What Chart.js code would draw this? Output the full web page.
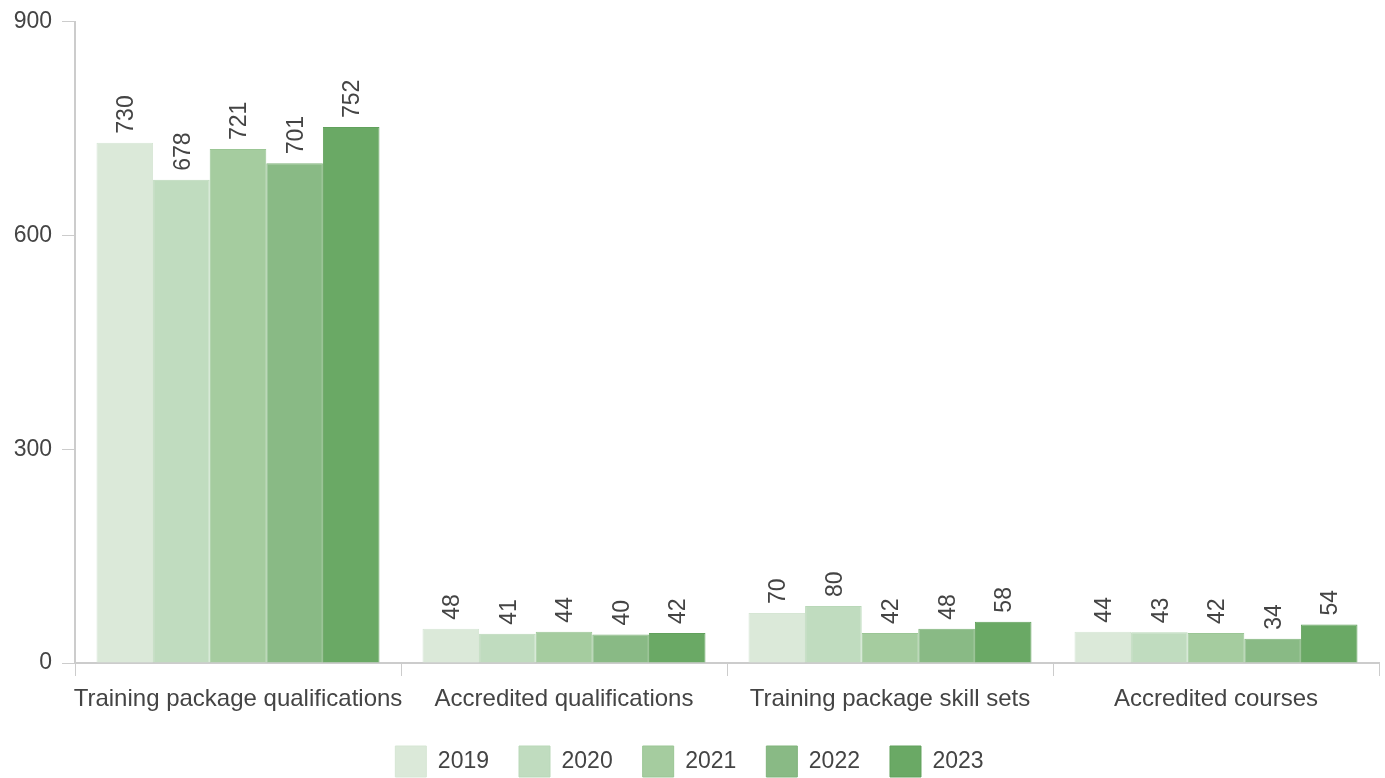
<!DOCTYPE html>
<html>
<head>
<meta charset="utf-8">
<script src="https://cdn.jsdelivr.net/npm/chart.js@4/dist/chart.umd.min.js"></script>
<style>
html,body{margin:0;padding:0;background:#fff;}
#wrap{width:1385px;height:778px;position:relative;}
</style>
</head>
<body>
<div id="wrap"><canvas id="c" width="1385" height="778"></canvas></div>
<script>
const categories = ["Training package qualifications", "Accredited qualifications", "Training package skill sets", "Accredited courses"];
const years = ["2019", "2020", "2021", "2022", "2023"];
const v2019 = [730, 48, 70, 44];
const v2020 = [678, 41, 80, 43];
const v2021 = [721, 44, 42, 42];
const v2022 = [701, 40, 48, 34];
const v2023 = [752, 42, 58, 54];
const yTicks = [0, 300, 600, 900];

const fills = ["#dbe9d9", "#c0dcbf", "#a5cc9f", "#89ba85", "#6aa965"];
const borders = ["#d6e6d4", "#b9d8b8", "#9bc695", "#80b47b", "#61a15c"];
const series = [v2019, v2020, v2021, v2022, v2023];

const FONT = "'Liberation Sans', Arial, sans-serif";
const TXT = "#444444";
const LABEL_SIZE = 23;

const labelPlugin = {
  id: 'barLabels',
  afterDatasetsDraw(chart) {
    const ctx = chart.ctx;
    ctx.save();
    ctx.font = LABEL_SIZE + "px " + FONT;
    ctx.fillStyle = TXT;
    ctx.textAlign = "left";
    ctx.textBaseline = "alphabetic";
    chart.data.datasets.forEach((ds, i) => {
      const meta = chart.getDatasetMeta(i);
      meta.data.forEach((bar, j) => {
        ctx.save();
        ctx.translate(bar.x, bar.y - 9);
        ctx.rotate(-Math.PI / 2);
        ctx.fillText(String(ds.data[j]), 0, LABEL_SIZE * 0.358);
        ctx.restore();
      });
    });
    ctx.restore();
  }
};

new Chart(document.getElementById('c'), {
  type: 'bar',
  data: {
    labels: categories,
    datasets: years.map((y, i) => ({
      label: y,
      data: series[i],
      backgroundColor: fills[i],
      borderColor: borders[i],
      borderWidth: 1,
      barPercentage: 1.0,
      categoryPercentage: 0.868
    }))
  },
  options: {
    responsive: false,
    animation: false,
    layout: { padding: { top: 0, right: 6, left: 0, bottom: -9 } },
    plugins: {
      tooltip: { enabled: false },
      legend: {
        position: 'bottom',
        labels: {
          boxWidth: 31,
          boxHeight: 31,
          padding: 30,
          color: TXT,
          font: { size: 23, family: FONT }
        }
      }
    },
    scales: {
      x: {
        afterFit(scale) { scale.height = 53; },
        grid: { drawOnChartArea: false, color: "#cccccc", tickLength: 13, offset: true },
        border: { color: "#cccccc", width: 2 },
        ticks: { color: TXT, font: { size: 24, family: FONT }, padding: 9, maxRotation: 0, autoSkip: false }
      },
      y: {
        min: 0,
        max: 900,
        afterBuildTicks(scale) { scale.ticks = yTicks.map(v => ({ value: v })); },
        afterFit(scale) { scale.width = 75; },
        grid: { drawOnChartArea: false, color: "#cccccc", tickLength: 13 },
        border: { color: "#cccccc", width: 2 },
        ticks: { color: TXT, font: { size: 23, family: FONT, lineHeight: 1.0 }, padding: 10 }
      }
    }
  },
  plugins: [labelPlugin]
});
</script>
</body>
</html>
